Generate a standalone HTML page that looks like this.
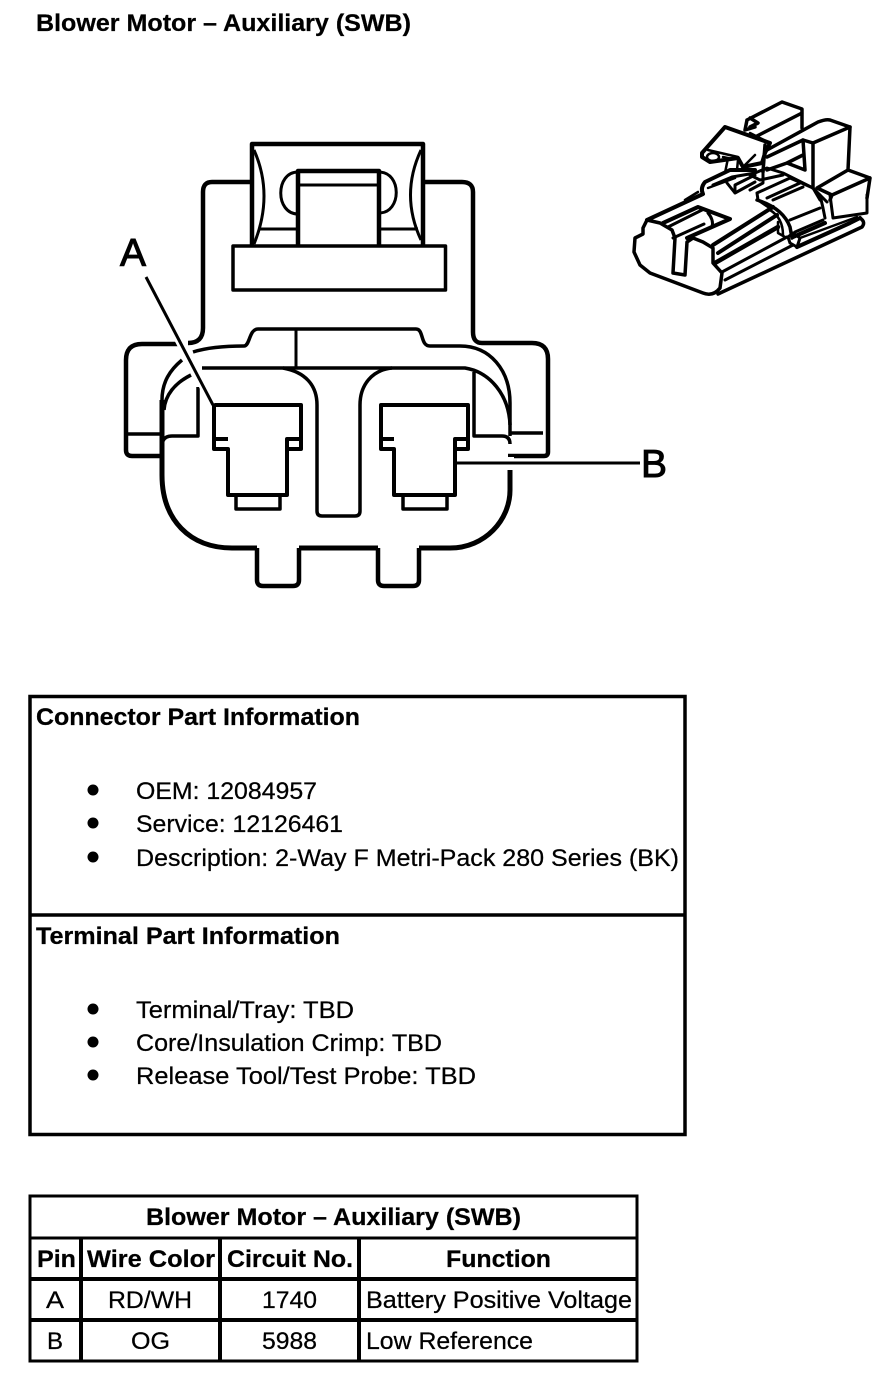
<!DOCTYPE html>
<html>
<head>
<meta charset="utf-8">
<style>
html,body{margin:0;padding:0;background:#fff;width:896px;height:1382px;overflow:hidden}
svg{display:block}
text{font-family:"Liberation Sans",sans-serif;fill:#000;stroke:#000;stroke-width:.25px}
.b{font-weight:bold}
.big{stroke-width:1px}
.l{fill:none;stroke:#000;stroke-linejoin:round;stroke-linecap:butt}
</style>
</head>
<body>
<svg width="896" height="1382" viewBox="0 0 896 1382" xmlns="http://www.w3.org/2000/svg">
<rect width="896" height="1382" fill="#fff"/>
<text class="b" x="36" y="31" font-size="24" textLength="375" lengthAdjust="spacingAndGlyphs">Blower Motor – Auxiliary (SWB)</text>

<!-- main connector -->
<g>
  <path class="l" stroke-width="4.500" d="M252 182H212Q203 182 203 192V328Q203 343 188 343"/>
  <path class="l" stroke-width="4.500" d="M423 182H462Q473 182 473 192V332Q473 343 482 343H532Q548 343 548 359V452Q548 456 544 456H508"/>
  <path class="l" stroke-width="4.500" d="M178 344H142Q126 344 126 360V450Q126 456 132 456H162"/>
  <path class="l" stroke-width="4.500" d="M252 246V144H423V246"/>
  <path class="l" stroke-width="3" d="M254 150Q274 195 254 244M421 150Q400 195 421 240"/>
  <path class="l" stroke-width="3" d="M298 172C275 172 275 214 298 214M379 172C402 172 402 213 379 213"/>
  <path class="l" stroke-width="4.500" d="M298 245V171H379V245"/>
  <path class="l" stroke-width="3" d="M298 185H379M258 229H298M379 229H418"/>
  <path class="l" stroke-width="3.500" d="M233 246H445.500V290H233Z"/>
  <path class="l" stroke-width="3.500" d="M193 352Q212 346 244 346C250 346 249 329 258 329H416C424 329 420 346 430 346H460C490 346 510 370 510 403V436"/>
  <path class="l" stroke-width="3" d="M296 329V368"/>
  <path class="l" stroke-width="3.500" d="M182 360C170 370 162 382 162 400"/>
  <path class="l" stroke-width="3.500" d="M191 375C175 383 165 395 164 410"/>
  <path class="l" stroke-width="3.500" d="M202 368H465C490 372 509 395 510 425"/>
  <path class="l" stroke-width="3.500" d="M283 368C305 372 317 385 317 405V511Q317 516 322 516H355Q360 516 360 511V405C360 385 372 370 392 368"/>
  <path class="l" stroke-width="5" d="M162 400V475C162 520 190 548 232 548H257"/>
  <path class="l" stroke-width="5" d="M299 548H378"/>
  <path class="l" stroke-width="5" d="M419 548H450C485 548 510 520 510 490V470"/>
  <path class="l" stroke-width="4.500" d="M257 548V580Q257 586 263 586H293Q299 586 299 580V548"/>
  <path class="l" stroke-width="4.500" d="M378 548V580Q378 586 384 586H413Q419 586 419 580V548"/>
  <path class="l" stroke-width="3.500" d="M128 434H162M198 387V436H172Q165 436 163 441"/>
  <path class="l" stroke-width="3.500" d="M474 372V436H502Q510 436 510 444M510 433H543"/>
  <!-- terminals -->
  <path class="l" stroke-width="4" d="M228 439H214V405H301V449H287V495H228V449H214V439"/>
  <path class="l" stroke-width="4" d="M301 439H287V449"/>
  <path class="l" stroke-width="3.500" d="M236 495V509H280V495"/>
  <path class="l" stroke-width="4" d="M394 439H381V405H468V449H455V495H394V449H381V439"/>
  <path class="l" stroke-width="4" d="M468 439H455V449"/>
  <path class="l" stroke-width="3.500" d="M403 495V509H447V495"/>
</g>
<!-- leaders -->
<line x1="146" y1="277" x2="213" y2="404" stroke="#fff" stroke-width="9"/>
<line x1="146" y1="277" x2="213" y2="405" stroke="#000" stroke-width="3"/>
<line x1="508" y1="463" x2="514" y2="463" stroke="#fff" stroke-width="12"/>
<line x1="457" y1="463" x2="640" y2="463" stroke="#000" stroke-width="3"/>
<text class="big" x="120" y="266" font-size="39">A</text>
<text class="big" x="641" y="477" font-size="39">B</text>

<!-- iso connector -->
<g fill="none" stroke="#000" stroke-width="3" stroke-linejoin="round" stroke-linecap="round">
  <!-- front face -->
  <path stroke-width="3.500" d="M647 220L643 228V234L635 238L634 252L640 265L650 273L703 293Q713 297 720 288L722 273L713 263V248L703 242L693 238L687 242L685 275L673 273L675 238L672 230L660 223Z"/>
  <path stroke-width="4" d="M647 220L703 194Q700 188 705 182L730 170L755 170"/>
  <path stroke-width="2.500" d="M685 200L698 192M708 188L735 178"/>
  <!-- slot -->
  <path stroke-width="4" d="M663 223L698 207L730 219L687 238"/>
  <path stroke-width="3" d="M668 227L702 210M708 213Q714 220 712 227M673 238L704 224"/>
  <!-- ribs -->
  <path stroke-width="4" d="M713 245L773 207M718 253L777 215"/>
  <path stroke-width="4.500" d="M715 263L778 227"/>
  <path stroke-width="3" d="M722 272L787 237M725 280L793 245"/>
  <path stroke-width="3.500" d="M718 294L862 227Q866 222 860 218"/>
  <path stroke-width="4" d="M797 247L850 223L860 218"/>
  <path stroke-width="2.500" d="M800 238L857 217"/>
  <!-- small tab -->
  <path stroke-width="3" d="M788 237L790 243L797 247L800 238L793 233Z"/>
  <!-- clip -->
  <path stroke-width="3.500" d="M757 200Q783 208 790 227L792 238"/>
  <path stroke-width="2.500" d="M770 210Q783 218 783 235M778 222V233L785 237"/>
  <path stroke-width="3" d="M757 193L790 178L813 188M757 193L758 200L770 208M767 198L800 183M773 200L803 187"/>
  <path stroke-width="3" d="M790 220L820 208M795 232L823 220"/>
  <path stroke-width="4" d="M793 237L825 223"/>
  <path stroke-width="3" d="M820 195L823 208L825 218M830 195L833 218L867 213V195"/>
  <!-- right block -->
  <path stroke-width="3.500" d="M767 150L818 122Q826 119 830 120L850 127L813 143L803 140L767 157"/>
  <path stroke-width="3.500" d="M813 143V188M850 127L848 170L870 178L867 198M848 170L817 188L832 195L870 178M832 195L830 200"/>
  <path stroke-width="3.500" d="M803 140L805 170L787 163L803 155M767 170L787 163M765 145L763 172"/>
  <path stroke-width="3" d="M813 188L827 202M813 188L820 200"/>
  <!-- top clip -->
  <path stroke-width="3.500" d="M747 120L782 102L802 109V128M755 137L802 113M747 120L745 130L755 127M750 118L758 123L750 127"/>
  <!-- latch -->
  <path stroke-width="4" d="M702 153L725 127L770 143L765 153L762 163L743 167L738 158L710 162L702 157Z"/>
  <path stroke-width="2.500" d="M708 150L738 157"/>
  <ellipse cx="713" cy="157" rx="6" ry="4" stroke-width="2.500"/>
  <path stroke-width="2.500" d="M723 157L732 159M728 158L725 173M738 160L737 170M743 167L755 155M750 133L770 143"/>
  <!-- center block -->
  <path stroke-width="3" d="M713 185L732 177L755 173L767 168L783 173L813 188M750 175L760 180L783 175M763 172V183L750 190"/>
  <path stroke-width="3" d="M727 183L735 193L755 182M735 193V185L755 175"/>
</g>

<!-- info box -->
<rect x="30" y="696.500" width="655" height="438" fill="none" stroke="#000" stroke-width="3.500"/>
<line x1="30" y1="915" x2="685" y2="915" stroke="#000" stroke-width="3.500"/>
<text class="b" x="36" y="725" font-size="24" textLength="324" lengthAdjust="spacingAndGlyphs">Connector Part Information</text>
<circle cx="93" cy="790" r="5.500"/>
<circle cx="93" cy="823" r="5.500"/>
<circle cx="93" cy="857" r="5.500"/>
<text x="136" y="799" font-size="24" textLength="181" lengthAdjust="spacingAndGlyphs">OEM: 12084957</text>
<text x="136" y="832" font-size="24" textLength="207" lengthAdjust="spacingAndGlyphs">Service: 12126461</text>
<text x="136" y="866" font-size="24" textLength="543" lengthAdjust="spacingAndGlyphs">Description: 2-Way F Metri-Pack 280 Series (BK)</text>
<text class="b" x="36" y="944" font-size="24" textLength="304" lengthAdjust="spacingAndGlyphs">Terminal Part Information</text>
<circle cx="93" cy="1009" r="5.500"/>
<circle cx="93" cy="1042" r="5.500"/>
<circle cx="93" cy="1075" r="5.500"/>
<text x="136" y="1018" font-size="24" textLength="218" lengthAdjust="spacingAndGlyphs">Terminal/Tray: TBD</text>
<text x="136" y="1051" font-size="24" textLength="306" lengthAdjust="spacingAndGlyphs">Core/Insulation Crimp: TBD</text>
<text x="136" y="1084" font-size="24" textLength="340" lengthAdjust="spacingAndGlyphs">Release Tool/Test Probe: TBD</text>

<!-- table -->
<g stroke="#000" fill="none">
  <rect x="30" y="1196" width="607" height="165" stroke-width="3"/>
  <line x1="30" y1="1238" x2="637" y2="1238" stroke-width="3"/>
  <line x1="30" y1="1279" x2="637" y2="1279" stroke-width="4"/>
  <line x1="30" y1="1320" x2="637" y2="1320" stroke-width="4"/>
  <line x1="81" y1="1238" x2="81" y2="1361" stroke-width="4"/>
  <line x1="220" y1="1238" x2="220" y2="1361" stroke-width="4"/>
  <line x1="359" y1="1238" x2="359" y2="1361" stroke-width="4"/>
</g>
<text class="b" x="146" y="1225" font-size="24" textLength="375" lengthAdjust="spacingAndGlyphs">Blower Motor – Auxiliary (SWB)</text>
<text class="b" x="37" y="1267" font-size="24" textLength="39" lengthAdjust="spacingAndGlyphs">Pin</text>
<text class="b" x="87" y="1267" font-size="24" textLength="128" lengthAdjust="spacingAndGlyphs">Wire Color</text>
<text class="b" x="227" y="1267" font-size="24" textLength="126" lengthAdjust="spacingAndGlyphs">Circuit No.</text>
<text class="b" x="446" y="1267" font-size="24" textLength="105" lengthAdjust="spacingAndGlyphs">Function</text>
<text x="46" y="1308" font-size="24" textLength="18" lengthAdjust="spacingAndGlyphs">A</text>
<text x="108" y="1308" font-size="24" textLength="84" lengthAdjust="spacingAndGlyphs">RD/WH</text>
<text x="262" y="1308" font-size="24" textLength="55" lengthAdjust="spacingAndGlyphs">1740</text>
<text x="366" y="1308" font-size="24" textLength="266" lengthAdjust="spacingAndGlyphs">Battery Positive Voltage</text>
<text x="47" y="1349" font-size="24" textLength="16" lengthAdjust="spacingAndGlyphs">B</text>
<text x="131" y="1349" font-size="24" textLength="39" lengthAdjust="spacingAndGlyphs">OG</text>
<text x="262" y="1349" font-size="24" textLength="55" lengthAdjust="spacingAndGlyphs">5988</text>
<text x="366" y="1349" font-size="24" textLength="167" lengthAdjust="spacingAndGlyphs">Low Reference</text>
</svg>
</body>
</html>
